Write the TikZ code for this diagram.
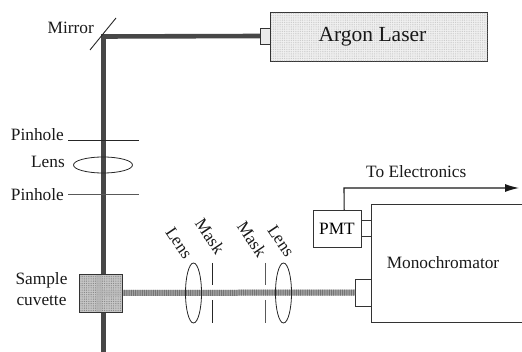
\documentclass[tikz,border=0pt]{standalone}
\usepackage{fontspec}
\setmainfont{Liberation Serif}
\usetikzlibrary{arrows.meta,shapes.geometric,calc,patterns.meta}
\tikzset{
  x=1pt,y=-1pt,
  box/.style={draw=black!80,line width=0.8pt,inner sep=0pt,outer sep=0pt,minimum width=#1},
  lab/.style={inner sep=0pt,font=\fontsize{17.3}{19}\selectfont,text=black!90},
  rlab/.style={lab,rotate=-56},
  thin line/.style={draw=black!85,line width=0.9pt},
  lens/.style={ellipse,draw=black!85,line width=0.8pt,inner sep=0pt,outer sep=0pt},
  mainbeam/.style={line width=4.6pt,draw=black!72},
  sidebeam/.style={line width=6pt,draw=black!35},
  sidehatch/.style={line width=6pt,draw=black!55,dash pattern=on 1pt off 1.2pt},
  dotfill/.style={pattern={Dots[distance=1.8pt,radius=0.45pt]},pattern color=#1},
}
\begin{document}
\begin{tikzpicture}
\useasboundingbox (0,0) rectangle (522,352);
% Beams
\coordinate (corner) at (103.5,36.5);
\coordinate (bottom) at (103.5,352);
\node[box=10pt,minimum height=16pt,fill=black!8] (port) at (265,36) {};
\draw[mainbeam,line join=miter] (port.west) -- (corner) -- (bottom);
\node[box=217pt,minimum height=49pt,fill=black!6] (laser) at (379,37) {};
\fill[dotfill=black!25] (laser.north west) rectangle (laser.south east);
\node[font=\fontsize{21.5}{23}\selectfont,text=black!90,inner sep=0pt] (lasertext) at (372.5,37) {Argon Laser};
% Mirror
\coordinate (m1) at (90,50);
\coordinate (m2) at (116,18);
\draw[thin line] (m1) -- (m2);
\node[lab,anchor=east] (mirror) at (94,28) {Mirror};
% Pinholes and lens
\coordinate (p1a) at (68,140.5); \coordinate (p1b) at (138.5,140.5);
\coordinate (p2a) at (68,194); \coordinate (p2b) at (138.5,194);
\draw[thin line] (p1a) -- (p1b);
\draw[thin line,draw=black!65] (p2a) -- (p2b);
\node[lens,minimum width=59pt,minimum height=16pt] (lens0) at (103,165) {};
\node[lab,anchor=east] (ph1) at (64,135) {Pinhole};
\node[lab,anchor=east] (l0) at (65,162) {Lens};
\node[lab,anchor=east] (ph2) at (64,195) {Pinhole};
% Monochromator and PMT
\node[box=151pt,minimum height=118pt,anchor=north west] (mono) at (371,204.5) {};
\node[lab] (monotext) at (443,263) {Monochromator};
\node[box=16pt,minimum height=27pt,anchor=east] (slit) at (371,292.5) {};
\node[box=48pt,minimum height=37pt,anchor=north west,font=\fontsize{17.3}{19}\selectfont] (pmt) at (313,210) {PMT};
\node[box=10pt,minimum height=16pt,anchor=west] (pmtport) at (pmt.east) {};
\coordinate (wire) at ($(pmt.north west)!0.65!(pmt.north east)$);
\coordinate (wirec) at (344,188);
\coordinate (tip) at (519,188);
\draw[line width=1.1pt,-{Latex[length=14pt,width=8pt]},draw=black!90] (wire) -- (wirec) -- (tip);
\node[lab,anchor=west] (toel) at (366,172) {To Electronics};
% Side beam
\draw[sidebeam] (122,293) -- (slit.west);
\draw[sidehatch] (122,293) -- (slit.west);
% Cuvette
\node[box=43pt,minimum height=38pt,fill=black!22,anchor=north west] (cuv) at (79,274) {};
\fill[dotfill=black!55] (cuv.north west) rectangle (cuv.south east);
\fill[black!30,opacity=.6] ($(cuv.north)+(-5,0)$) rectangle ($(cuv.south)+(1,0)$);
\fill[black!30,opacity=.5] ($(cuv.center)+(0,-3)$) rectangle ($(cuv.east)+(0,3)$);
\draw[draw=black!80,line width=0.8pt] (cuv.north west) rectangle (cuv.south east);
\node[lab,align=center] (cuvt) at (41.5,289.5) {Sample\\[2pt]cuvette};
% Lenses and masks
\node[lens,minimum width=16pt,minimum height=60pt] (lens1) at (193.5,293) {};
\node[lens,minimum width=16pt,minimum height=60pt] (lens2) at (283.5,293) {};
\coordinate (a1) at (212,263); \coordinate (a2) at (212,285);
\coordinate (a3) at (212,300); \coordinate (a4) at (212,323);
\coordinate (b1) at (265,263); \coordinate (b2) at (265,285);
\coordinate (b3) at (265,300); \coordinate (b4) at (265,323);
\draw[thin line] (a1) -- (a2) (a3) -- (a4);
\draw[thin line,draw=black!65] (b1) -- (b2) (b3) -- (b4);
\node[rlab] (ll1) at (179,243) {Lens};
\node[rlab] (mk1) at (210,236) {Mask};
\node[rlab] (mk2) at (252,239) {Mask};
\node[rlab] (ll2) at (281,241) {Lens};
\end{tikzpicture}
\end{document}
